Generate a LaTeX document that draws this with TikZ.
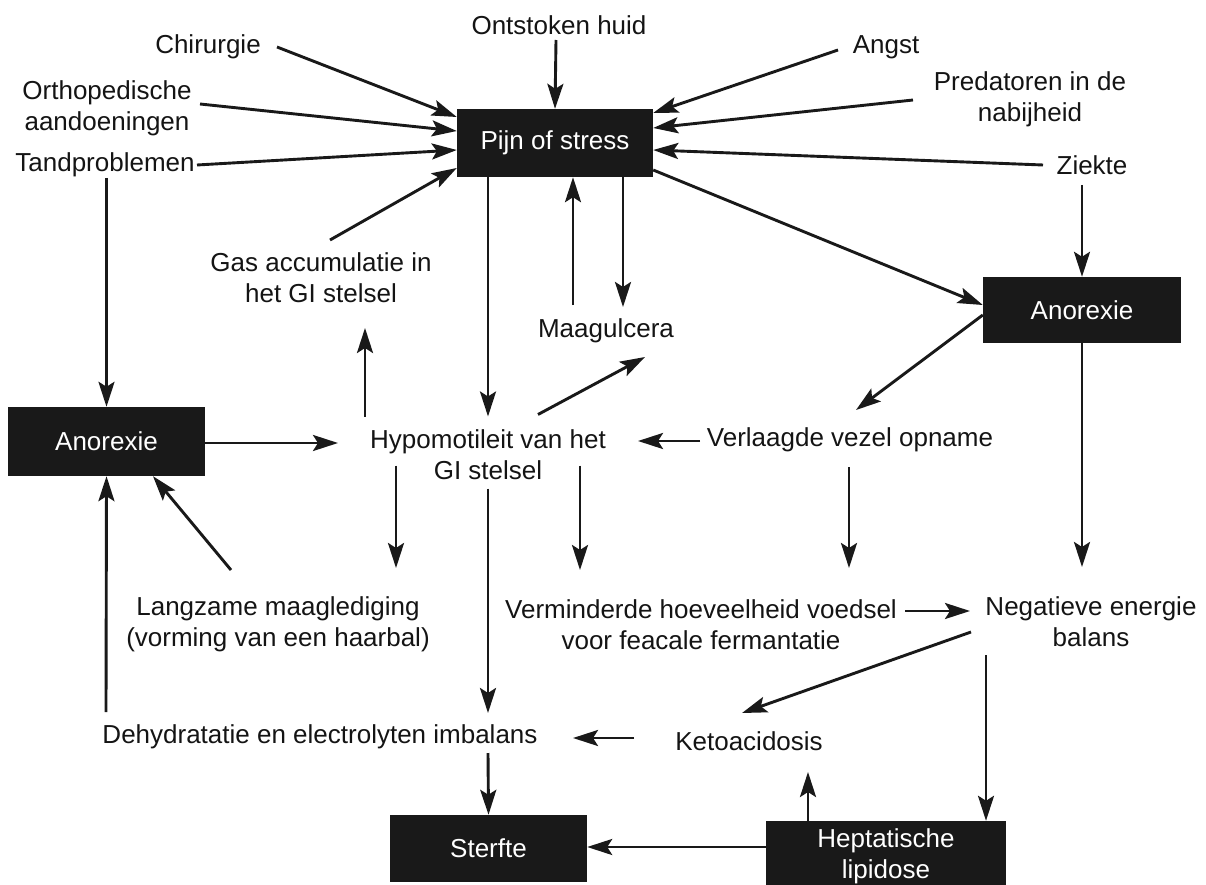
\documentclass[tikz,border=0pt]{standalone}
\usepackage{fontspec}
\setmainfont{Liberation Sans}
\usetikzlibrary{arrows.meta}
\newcommand\dfont{\fontsize{26}{31}\selectfont}
\tikzset{
  lbl/.style={font=\dfont, align=center, inner sep=0pt, text=black!92},
  blackbox/.style={draw=none, fill=black!90, text=white, font=\dfont, align=center, inner sep=0pt},
  arr/.style={line width=2.9pt, draw=black!90, -{Stealth[length=25pt,width=16pt,inset=5pt]}},
}
\begin{document}
\begin{tikzpicture}[x=1pt,y=-1pt]
\useasboundingbox (0,0) rectangle (1206,885);
% text nodes
\node[lbl] (ontst) at (559,25) {Ontstoken huid};
\node[lbl] (chir) at (208,47) {Chirurgie};
\node[lbl] (angst) at (886,47) {Angst};
\node[lbl] (ortho) at (107,108) {Orthopedische\\aandoeningen};
\node[lbl] (pred) at (1030,99.5) {Predatoren in de\\nabijheid};
\node[lbl] (tand) at (105,165) {Tandproblemen};
\node[lbl] (ziekte) at (1092,165) {Ziekte};
\node[lbl] (gas) at (321,277.5) {Gas accumulatie in\\het GI stelsel};
\node[lbl] (maag) at (606,331) {Maagulcera};
\node[lbl] (hypo) at (488,454.5) {Hypomotileit van het\\GI stelsel};
\node[lbl] (verl) at (850,440) {Verlaagde vezel opname};
\node[lbl] (lang) at (278,624) {Langzame maaglediging\\(vorming van een haarbal)};
\node[lbl] (verm) at (701,625) {Verminderde hoeveelheid voedsel\\voor feacale fermantatie};
\node[lbl] (neg) at (1091,622) {Negatieve energie\\balans};
\node[lbl] (dehyd) at (320,737) {Dehydratatie en electrolyten imbalans};
\node[lbl] (keto) at (749,741) {Ketoacidosis};
% boxes
\node[blackbox, minimum width=196pt, minimum height=68pt] (pijn) at (555,143) {Pijn of stress};
\node[blackbox, minimum width=198pt, minimum height=66pt] (anorR) at (1082,310) {Anorexie};
\node[blackbox, minimum width=197pt, minimum height=69pt] (anorL) at (106.5,441.5) {Anorexie};
\node[blackbox, minimum width=197pt, minimum height=67pt] (sterfte) at (488.5,848.5) {Sterfte};
\node[blackbox, minimum width=240pt, minimum height=70pt] (hept) at (886,856) {Heptatische\\lipidose};
% connectors into Pijn of stress
\draw[arr] ([shift={(69,0)}]chir.center) -- ([shift={(0,-26)}]pijn.west);
\draw[arr] ([shift={(-3,15)}]ontst.center) -- (pijn.north);
\draw[arr] ([shift={(-48,3)}]angst.center) -- ([shift={(0,-30)}]pijn.east);
\draw[arr] ([shift={(93,-4)}]ortho.center) -- ([shift={(0,-12)}]pijn.west);
\draw[arr] ([shift={(-117,0.5)}]pred.center) -- ([shift={(0,-15)}]pijn.east);
\draw[arr] ([shift={(92,0)}]tand.center) -- ([shift={(0,7)}]pijn.west);
\draw[arr] ([shift={(-49,0)}]ziekte.center) -- ([shift={(0,7)}]pijn.east);
\draw[arr] ([shift={(9,-37.5)}]gas.center) -- ([shift={(0,25)}]pijn.west);
% from Pijn of stress
\draw[arr] ([shift={(0,27)}]pijn.east) -- ([shift={(0,-5)}]anorR.west);
\draw[arr] ([shift={(-10,20)}]ziekte.center) -- (anorR.north);
\draw[arr] ([shift={(-67,0)}]pijn.south) -- ([shift={(0,-38)}]hypo.center);
\draw[arr] ([shift={(-33,-26)}]maag.center) -- ([shift={(18,0)}]pijn.south);
\draw[arr] ([shift={(68,0)}]pijn.south) -- ([shift={(17,-24)}]maag.center);
% left column
\draw[arr] ([shift={(1.5,13)}]tand.center) -- (anorL.north);
\draw[arr] ([shift={(0,1.5)}]anorL.east) -- ([shift={(-150,-11.5)}]hypo.center);
\draw[arr] ([shift={(-123,-38)}]hypo.center) -- ([shift={(44,50.5)}]gas.center);
\draw[arr] ([shift={(50,-40)}]hypo.center) -- ([shift={(39,26)}]maag.center);
\draw[arr] ([shift={(-150,1)}]verl.center) -- ([shift={(150,-13.5)}]hypo.center);
\draw[arr] ([shift={(0,5)}]anorR.west) -- ([shift={(6,-30)}]verl.center);
\draw[arr] (anorR.south) -- ([shift={(-9,-55)}]neg.center);
\draw[arr] ([shift={(-92,11)}]hypo.center) -- ([shift={(118,-56)}]lang.center);
\draw[arr] ([shift={(0,34)}]hypo.center) -- ([shift={(168,-24)}]dehyd.center);
\draw[arr] ([shift={(92,11)}]hypo.center) -- ([shift={(-121,-55)}]verm.center);
\draw[arr] ([shift={(-1,27)}]verl.center) -- ([shift={(148,-57)}]verm.center);
\draw[arr] ([shift={(-47,-54)}]lang.center) -- ([shift={(46.5,0)}]anorL.south);
\draw[arr] ([shift={(-214,-25)}]dehyd.center) -- (anorL.south);
\draw[arr] ([shift={(204,-14)}]verm.center) -- ([shift={(-121,-11)}]neg.center);
\draw[arr] ([shift={(-120,10)}]neg.center) -- ([shift={(-7,-28)}]keto.center);
\draw[arr] ([shift={(-105,33)}]neg.center) -- ([shift={(100,0)}]hept.north);
\draw[arr] ([shift={(-78,0)}]hept.north) -- ([shift={(59,31)}]keto.center);
\draw[arr] ([shift={(-115,-3)}]keto.center) -- ([shift={(253,1)}]dehyd.center);
\draw[arr] ([shift={(168,16)}]dehyd.center) -- (sterfte.north);
\draw[arr] ([shift={(0,-9)}]hept.west) -- ([shift={(0,-1.5)}]sterfte.east);
\end{tikzpicture}
\end{document}
